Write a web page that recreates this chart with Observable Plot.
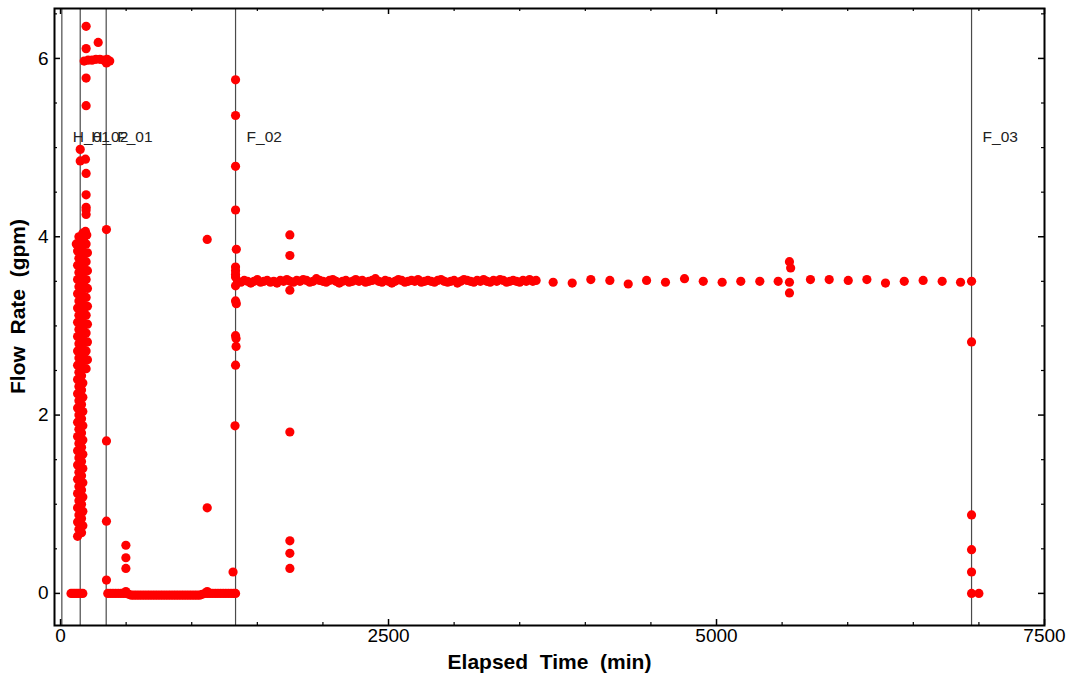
<!DOCTYPE html>
<html>
<head>
<meta charset="utf-8">
<script src="https://cdn.jsdelivr.net/npm/d3@7"></script>
<script src="https://cdn.jsdelivr.net/npm/@observablehq/plot@0.6"></script>
<style>
  html, body { margin: 0; padding: 0; background: #fff; }
  #chart svg { display: block; }
</style>
</head>
<body>
<div id="chart"></div>
<script>
// ---- Data (elapsed time in min, flow rate in gpm) ----
const startupZero = [[80,0],[95,0],[110,0],[125,0],[140,0],[155,0],[170,0]];
const startupColA = [
  [130,0.64],[140,0.72],[130,0.80],[140,0.88],[130,0.96],[140,1.04],[130,1.12],[140,1.20],[130,1.28],[140,1.36],
  [130,1.44],[140,1.52],[130,1.60],[140,1.68],[130,1.76],[140,1.84],[130,1.92],[140,2.00],[130,2.08],[140,2.16],
  [130,2.24],[140,2.32],[130,2.40],[140,2.48],[130,2.56],[140,2.64],[130,2.72],[140,2.80],[130,2.88],[140,2.96],
  [130,3.04],[140,3.12],[130,3.20],[140,3.28],[130,3.36],[140,3.44],[130,3.52],[140,3.60],[130,3.68],[140,3.76],
  [130,3.84],[120,3.92],[140,4.00]
];
const startupColB = [
  [160,0.68],[170,0.76],[160,0.84],[170,0.92],[160,1.00],[170,1.08],[160,1.16],[170,1.24],[160,1.32],[170,1.40],
  [160,1.48],[170,1.56],[160,1.64],[170,1.72],[160,1.80],[170,1.88],[160,1.96],[170,2.04],[160,2.12],[170,2.20],
  [160,2.28],[170,2.36],[160,2.44],[175,2.52],[165,2.60],[175,2.68],[165,2.76],[175,2.84],[165,2.92],[175,3.00],
  [165,3.08],[175,3.16],[165,3.24],[175,3.32],[165,3.40],[175,3.48],[165,3.56],[175,3.64],[165,3.72],[175,3.80],
  [165,3.88],[175,3.96],[170,4.04]
];
const startupColC = [
  [195,2.52],[205,2.62],[195,2.72],[205,2.82],[195,2.92],[205,3.02],[195,3.12],[205,3.22],[195,3.32],[205,3.42],
  [195,3.52],[205,3.62],[195,3.72],[205,3.82],[195,3.92],[200,4.02],[190,4.06]
];
const startupHigh = [
  [195,4.25],[195,4.30],[195,4.33],[195,4.47],[195,4.71],[150,4.85],[190,4.87],[150,4.98],[195,5.47],[195,5.78],
  [195,6.11],[195,6.36],[287,6.18],[180,5.97],[210,5.98],[240,5.98],[270,5.99],[300,5.99],[330,5.98],[355,5.99],
  [375,5.97],[350,5.95]
];
const f01Drop = [[350,4.08],[350,1.71],[350,0.81],[350,0.15]];
const zeroBand = [
  [360,0],[380,0],[400,0],[420,0],[440,0],[460,0],[480,0],[500,0],[520,-0.01],[540,-0.02],
  [560,-0.02],[580,-0.02],[600,-0.02],[620,-0.02],[640,-0.02],[660,-0.02],[680,-0.02],[700,-0.02],[720,-0.02],[740,-0.02],
  [760,-0.02],[780,-0.02],[800,-0.02],[820,-0.02],[840,-0.02],[860,-0.02],[880,-0.02],[900,-0.02],[920,-0.02],[940,-0.02],
  [960,-0.02],[980,-0.02],[1000,-0.02],[1020,-0.02],[1040,-0.02],[1060,-0.02],[1080,-0.01],[1100,0],[1120,0],[1140,0],
  [1160,0],[1180,0],[1200,0],[1220,0],[1240,0],[1260,0],[1280,0],[1300,0],[1320,0]
];
const spikes = [
  [498,0.54],[498,0.40],[498,0.28],[498,0.02],
  [1118,3.97],[1118,0.96],[1118,0.02],
  [1748,4.02],[1748,3.79],[1748,3.40],[1748,1.81],[1748,0.59],[1748,0.45],[1748,0.28]
];
const f02Rise = [
  [1334,5.76],[1334,5.36],[1334,4.79],[1334,4.30],[1340,3.86],[1334,3.66],[1334,3.62],[1334,3.58],[1334,3.55],[1334,3.45],
  [1334,3.28],[1340,3.25],[1334,2.89],[1338,2.86],[1338,2.77],[1334,2.56],[1330,1.88],[1315,0.24],[1334,0]
];
const plateauTime = [
  1350,1375,1400,1425,1450,1475,1500,1525,1550,1575,
  1600,1625,1650,1675,1700,1725,1750,1775,1800,1825,
  1850,1875,1900,1925,1950,1975,2000,2025,2050,2075,
  2100,2125,2150,2175,2200,2225,2250,2275,2300,2325,
  2350,2375,2400,2425,2450,2475,2500,2525,2550,2575,
  2600,2625,2650,2675,2700,2725,2750,2775,2800,2825,
  2850,2875,2900,2925,2950,2975,3000,3025,3050,3075,
  3100,3125,3150,3175,3200,3225,3250,3275,3300,3325,
  3350,3375,3400,3425,3450,3475,3500,3525,3550,3575,
  3600,3625
];
const plateauFlow = [
  3.50,3.49,3.51,3.50,3.48,3.50,3.52,3.49,3.50,3.51,
  3.49,3.50,3.48,3.51,3.50,3.52,3.50,3.49,3.51,3.50,
  3.52,3.51,3.49,3.50,3.53,3.51,3.50,3.49,3.51,3.52,
  3.50,3.48,3.50,3.51,3.49,3.50,3.52,3.50,3.51,3.49,
  3.50,3.51,3.53,3.50,3.49,3.51,3.50,3.48,3.50,3.52,
  3.51,3.49,3.50,3.51,3.50,3.52,3.49,3.50,3.51,3.50,
  3.49,3.51,3.52,3.50,3.49,3.50,3.51,3.48,3.50,3.52,
  3.51,3.50,3.49,3.51,3.50,3.52,3.50,3.49,3.51,3.50,
  3.52,3.51,3.49,3.50,3.51,3.50,3.49,3.51,3.50,3.52,
  3.50,3.51
];
const sparse = [
  [3755,3.49],[3900,3.48],[4042,3.52],[4187,3.51],[4327,3.47],[4467,3.51],[4611,3.49],[4756,3.53],[4899,3.50],[5043,3.49],
  [5185,3.50],[5330,3.50],[5470,3.50],[5556,3.72],[5565,3.65],[5556,3.49],[5556,3.37],[5716,3.52],[5859,3.52],[6004,3.51],
  [6146,3.52],[6288,3.48],[6431,3.50],[6575,3.51],[6720,3.50],[6860,3.49]
];
const f03Drop = [[6944,3.50],[6944,2.82],[6944,0.88],[6944,0.49],[6944,0.24],[6944,0],[7000,0]];

const eventTimes = [10, 150, 348, 1334, 6944];
const eventLabels = ["H_01", "H_02", "F_01", "F_02", "F_03"];

const xMajorTicks = [0, 2500, 5000, 7500];
const xMinorTicks = [500, 1000, 1500, 2000, 3000, 3500, 4000, 4500, 5500, 6000, 6500, 7000];
const yMajorTicks = [0, 2, 4, 6];
const yMinorTicks = [0.5, 1, 1.5, 2.5, 3, 3.5, 4.5, 5, 5.5, 6.5];

const xTitle = "Elapsed\u00a0\u00a0Time\u00a0\u00a0(min)";
const yTitle = "Flow\u00a0\u00a0Rate\u00a0\u00a0(gpm)";

// ---- Build table ----
const points = [
  ...startupZero, ...startupColA, ...startupColB, ...startupColC, ...startupHigh, ...f01Drop, ...zeroBand, ...spikes, ...f02Rise,
  ...plateauTime.map((t, i) => [t, plateauFlow[i]]),
  ...sparse, ...f03Drop
].map(([t, q]) => ({t, q}));
const events = eventTimes.map((t, i) => ({t, label: eventLabels[i]}));

const X0 = -46, X1 = 7500, Y0 = -0.36, Y1 = 6.56;
const W = 1070, H = 677, mL = 54, mR = 26, mT = 8, mB = 52;
const xPx = (X1 - X0) / (W - mL - mR); // data units per px
const yPx = (Y1 - Y0) / (H - mT - mB);

const font = "Liberation Sans, Arial, sans-serif";

const chart = Plot.plot({
  width: W, height: H,
  marginLeft: mL, marginRight: mR, marginTop: mT, marginBottom: mB,
  style: {fontFamily: font, background: "#fff"},
  x: {domain: [X0, X1]},
  y: {domain: [Y0, Y1]},
  marks: [
    // event lines
    Plot.ruleX(events, {x: "t", y1: Y0, y2: Y1, stroke: "#4a4a4a", strokeWidth: 1.2}),
    Plot.text(events, {x: "t", y: 5.12, text: "label", textAnchor: "start", dx: 11, fontSize: 15.5, fill: "#222", fontFamily: font}),
    // data
    Plot.dot(points, {x: "t", y: "q", r: 4.6, fill: "#ff0000", stroke: "none"}),
    // ticks (inward)
    Plot.ruleX(xMajorTicks, {x: d => d, y1: Y0, y2: Y0 + 6 * yPx, stroke: "#000", strokeWidth: 1.5}),
    Plot.ruleX(xMinorTicks, {x: d => d, y1: Y0, y2: Y0 + 3 * yPx, stroke: "#000", strokeWidth: 1.2}),
    Plot.ruleX(xMajorTicks, {x: d => d, y1: Y1, y2: Y1 - 6 * yPx, stroke: "#000", strokeWidth: 1.5}),
    Plot.ruleX(xMinorTicks, {x: d => d, y1: Y1, y2: Y1 - 3 * yPx, stroke: "#000", strokeWidth: 1.2}),
    Plot.ruleY(yMajorTicks, {y: d => d, x1: X0, x2: X0 + 6 * xPx, stroke: "#000", strokeWidth: 1.5}),
    Plot.ruleY(yMinorTicks, {y: d => d, x1: X0, x2: X0 + 3 * xPx, stroke: "#000", strokeWidth: 1.2}),
    Plot.ruleY(yMajorTicks, {y: d => d, x1: X1, x2: X1 - 6 * xPx, stroke: "#000", strokeWidth: 1.5}),
    Plot.ruleY(yMinorTicks, {y: d => d, x1: X1, x2: X1 - 3 * xPx, stroke: "#000", strokeWidth: 1.2}),
    // tick labels
    Plot.axisX(xMajorTicks, {tickSize: 0, tickPadding: 3, fontSize: 19, label: null, tickFormat: d => String(d), fill: "#000"}),
    Plot.axisY(yMajorTicks, {tickSize: 0, tickPadding: 6, fontSize: 19, label: null, tickFormat: d => String(d), fill: "#000"}),
    // frame
    Plot.frame({stroke: "#000", strokeWidth: 2}),
    // titles
    Plot.text([xTitle], {x: (X0 + X1) / 2, y: Y0 - 37 * yPx, text: d => d, fontSize: 21, fontWeight: "bold", fill: "#000", fontFamily: font}),
    Plot.text([yTitle], {x: X0 - 36 * xPx, y: Y0 + (625 - 306) * yPx, rotate: -90, text: d => d, fontSize: 21, fontWeight: "bold", fill: "#000", fontFamily: font})
  ]
});
document.getElementById("chart").appendChild(chart);
</script>
</body>
</html>
